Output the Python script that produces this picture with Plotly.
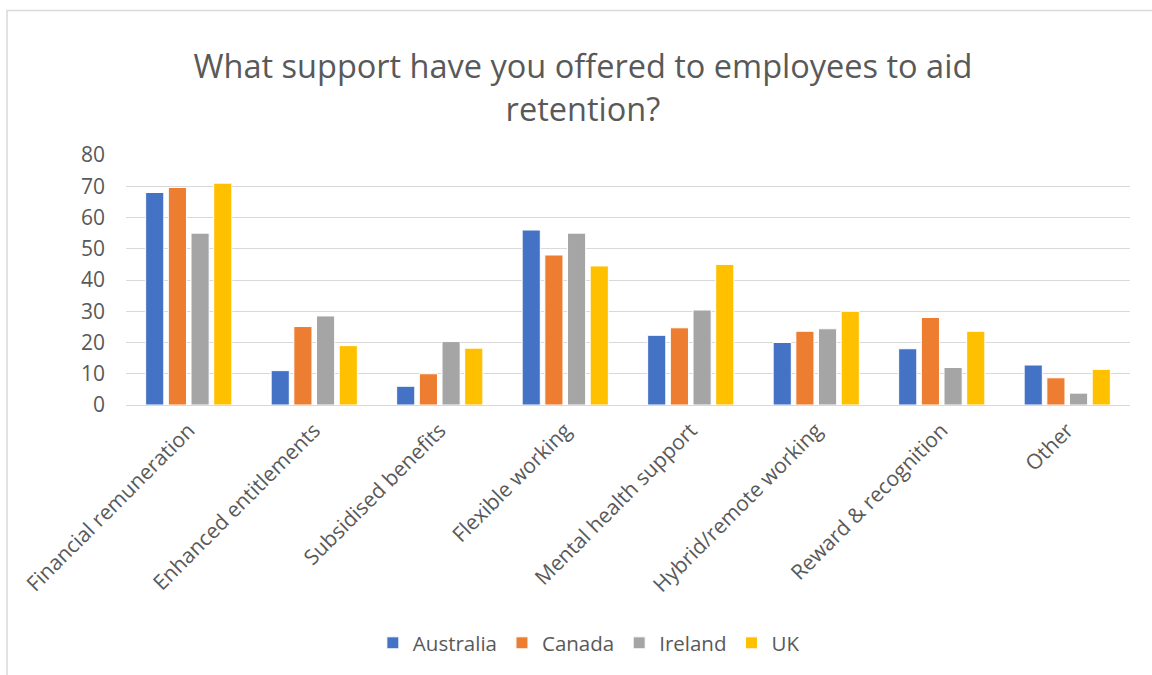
import plotly.graph_objects as go

categories = [
    "Financial remuneration",
    "Enhanced entitlements",
    "Subsidised benefits",
    "Flexible working",
    "Mental health support",
    "Hybrid/remote working",
    "Reward & recognition",
    "Other",
]
australia = [68, 11, 6, 56, 22.3, 20, 18, 12.8]
canada = [69.6, 25.1, 10, 48, 24.7, 23.6, 28, 8.7]
ireland = [55, 28.5, 20.3, 55, 30.4, 24.4, 12, 3.8]
uk = [71, 19, 18.2, 44.5, 45, 30, 23.6, 11.4]

series = [
    ("Australia", australia, "#4472C4"),
    ("Canada", canada, "#ED7D31"),
    ("Ireland", ireland, "#A5A5A5"),
    ("UK", uk, "#FFC000"),
]

font_family = "Open Sans, Liberation Sans, sans-serif"
text_color = "#595959"

fig = go.Figure()
for name, values, color in series:
    fig.add_trace(
        go.Bar(
            x=categories,
            y=values,
            name=name,
            marker=dict(color=color, line=dict(color="white", width=1)),
        )
    )

fig.update_layout(
    width=1152,
    height=675,
    paper_bgcolor="white",
    plot_bgcolor="white",
    barmode="group",
    bargap=0.277,
    bargroupgap=0.2,
    margin=dict(l=126, r=22, t=155, b=270),
    font=dict(family=font_family, color=text_color, size=20),
    title=dict(
        text="What support have you offered to employees to aid<br>retention?",
        x=0.506,
        xanchor="center",
        y=0.884,
        yanchor="middle",
        yref="container",
        font=dict(size=32.5, color=text_color, family=font_family),
    ),
    legend=dict(
        orientation="h",
        x=0.461,
        xanchor="center",
        xref="paper",
        y=-0.952,
        yanchor="middle",
        font=dict(size=20.5, color=text_color),
        itemwidth=30,
        traceorder="normal",
    ),
    shapes=[
        dict(
            type="rect",
            xref="paper",
            yref="paper",
            x0=(7 - 126) / 1004,
            x1=1.2,
            y0=-1.5,
            y1=(405 - 10.5) / 250,
            line=dict(color="#D9D9D9", width=1.5),
            fillcolor="rgba(0,0,0,0)",
            layer="below",
        )
    ],
)

fig.update_xaxes(
    tickangle=-45,
    showgrid=False,
    showline=False,
    ticks="",
    ticklabelstandoff=8,
    tickfont=dict(size=21, color=text_color),
)
fig.update_yaxes(
    range=[0, 80],
    dtick=10,
    showgrid=True,
    gridcolor="#D9D9D9",
    gridwidth=1.3,
    zeroline=True,
    zerolinecolor="#D9D9D9",
    zerolinewidth=1.3,
    showline=False,
    ticks="",
    ticklabelstandoff=20,
    tickfont=dict(size=21, color=text_color),
)

# drop the default page margin so the figure sits flush with the window
fig.write_html(
    "out.html",
    config={"displayModeBar": False},
    post_script="document.body.style.margin = '0';",
)
